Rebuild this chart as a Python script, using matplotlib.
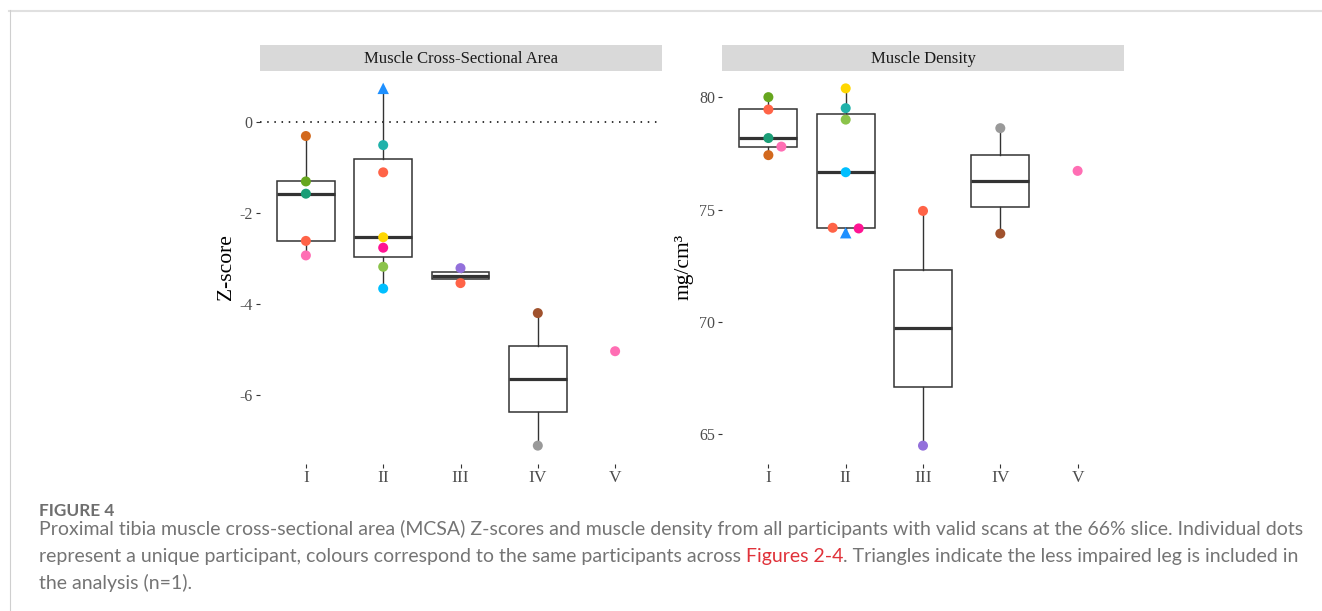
import matplotlib
matplotlib.use("Agg")
import matplotlib.pyplot as plt
import numpy as np
from matplotlib.lines import Line2D

plt.rcParams['axes.unicode_minus'] = False

# ---------------- data ----------------
groups = ["I", "II", "III", "IV", "V"]
participant_group = ["I", "I", "I", "I", "I",
                     "II", "II", "II", "II", "II", "II", "II",
                     "III", "III",
                     "IV", "IV",
                     "V"]
participant_color = ["#D2691E", "#66A61E", "#1B9E77", "#FF6347", "#FF6EB4",
                     "#1E90FF", "#20B2AA", "#FF6347", "#FFD700", "#FF1493", "#8BC34A", "#00BFFF",
                     "#9370DB", "#FF6347",
                     "#A0522D", "#999999",
                     "#FF6EB4"]
participant_marker = ["o", "o", "o", "o", "o",
                      "^", "o", "o", "o", "o", "o", "o",
                      "o", "o",
                      "o", "o",
                      "o"]
mcsa_z = [-0.30, -1.30, -1.57, -2.61, -2.93,
          0.75, -0.50, -1.10, -2.53, -2.76, -3.18, -3.66,
          -3.21, -3.54,
          -4.20, -7.12,
          -5.04]
density = [77.42, 80.00, 78.18, 79.45, 77.80,
           73.97, 79.51, 74.19, 80.39, 74.16, 79.00, 76.66,
           64.50, 74.94,
           73.93, 78.62,
           76.72]

panel_titles = ["Muscle Cross-Sectional Area", "Muscle Density"]
y_titles = ["Z-score", "mg/cm\u00b3"]
y_ticks = [[0, -2, -4, -6], [65, 70, 75, 80]]

caption_head = "FIGURE 4"
caption_line1 = ("Proximal tibia muscle cross-sectional area (MCSA) Z-scores and muscle density "
                 "from all participants with valid scans at the 66% slice. Individual dots")
caption_line2a = "represent a unique participant, colours correspond to the same participants across"
caption_line2b = "Figures 2-4"
caption_line2c = ". Triangles indicate the less impaired leg is included in"
caption_line3 = "the analysis (n=1)."

# ---------------- figure ----------------
W, H = 1322, 611
fig = plt.figure(figsize=(W / 100, H / 100), dpi=100)
fig.patch.set_facecolor("white")


def fx(px):
    return px / W


def fy(py):
    return 1 - py / H


SERIF = ["Liberation Serif", "DejaVu Serif"]
ax_top, ax_bot = 70.5, 463.5
panel_left = [259.5, 722.0]
panel_w = 402.0

grp_idx = np.array([groups.index(g) + 1 for g in participant_group], dtype=float)


def swarm_x(ax, xs, ys, gids, d_col=9.5, step=13.0):
    pts = ax.transData.transform(np.column_stack([xs, ys]))
    order = np.argsort(ys, kind="stable")
    placed = []
    newx = pts[:, 0].copy()
    for i in order:
        px, py = pts[i]
        for k in [0, 1, -1, 2, -2, 3, -3]:
            cx = px + k * step
            ok = True
            for (qx, qy, g) in placed:
                if g == gids[i] and np.hypot(cx - qx, py - qy) < d_col:
                    ok = False
                    break
            if ok:
                break
        newx[i] = cx
        placed.append((cx, py, gids[i]))
    back = ax.transData.inverted().transform(np.column_stack([newx, pts[:, 1]]))
    return back[:, 0]


for p, vals in enumerate([mcsa_z, density]):
    vals = np.array(vals, dtype=float)
    ax = fig.add_axes([fx(panel_left[p]), fy(ax_bot), panel_w / W, (ax_bot - ax_top) / H])
    lo, hi = vals.min(), vals.max()
    pad = 0.05 * (hi - lo)
    ax.set_ylim(lo - pad, hi + pad)
    ax.set_xlim(0.4, len(groups) + 0.6)

    # boxplots
    box_data, box_pos = [], []
    for gi, g in enumerate(groups):
        v = vals[np.array(participant_group) == g]
        if len(v) >= 2:
            box_data.append(v)
            box_pos.append(gi + 1)
    ax.boxplot(box_data, positions=box_pos, widths=0.75, showfliers=False, showcaps=False,
               patch_artist=True,
               boxprops=dict(facecolor="white", edgecolor="#333333", linewidth=1.1),
               medianprops=dict(color="#333333", linewidth=2.3),
               whiskerprops=dict(color="#333333", linewidth=1.0),
               zorder=2)

    if p == 0:
        ax.axhline(0, color="black", linewidth=1.1, linestyle=(0, (1, 3.7)), zorder=1)

    xs = swarm_x(ax, grp_idx, vals, participant_group)
    for x, y, c, m in zip(xs, vals, participant_color, participant_marker):
        ax.scatter([x], [y], s=68 if m == "^" else 52, color=c, marker=m,
                   edgecolors="none", zorder=4)

    ax.set_xticks(range(1, len(groups) + 1))
    ax.set_xticklabels(groups)
    ax.set_yticks(y_ticks[p])
    ax.set_yticklabels([str(t) for t in y_ticks[p]])
    for s in ax.spines.values():
        s.set_visible(False)
    ax.tick_params(length=3, width=0.8, color="#333333", labelcolor="#4d4d4d",
                   labelsize=11.5, pad=2)
    ax.tick_params(axis="x", labelsize=12.5)
    for lab in ax.get_xticklabels() + ax.get_yticklabels():
        lab.set_fontfamily(SERIF)

    # strip
    sax = fig.add_axes([fx(panel_left[p]), fy(ax_top), panel_w / W, (ax_top - 45) / H])
    sax.set_facecolor("#d9d9d9")
    sax.set_xticks([])
    sax.set_yticks([])
    for s in sax.spines.values():
        s.set_visible(False)
    sax.text(0.5, 0.45, panel_titles[p], ha="center", va="center", fontsize=12,
             color="#1a1a1a", family=SERIF, transform=sax.transAxes)

    # y title
    fig.text(fx([226, 684][p]), fy(267), y_titles[p], rotation=90, ha="center", va="center",
             fontsize=15.5, color="black", family=SERIF)

# border lines
fig.add_artist(Line2D([fx(9), 1], [fy(10.5), fy(10.5)], color="#e0e0e0", linewidth=1.5,
                      transform=fig.transFigure))
fig.add_artist(Line2D([fx(9.5), fx(9.5)], [fy(10), 0], color="#cfcfcf", linewidth=0.8,
                      transform=fig.transFigure))

# caption
CAP = ["Lato", "DejaVu Sans"]
cap_color = "#747474"
r = fig.canvas.get_renderer()
x0 = 39
t1 = fig.text(fx(x0), fy(535.5), caption_line1, fontsize=12, color=cap_color, family=CAP,
              va="baseline", ha="left")
w1 = t1.get_window_extent(r).width
fs = 12 * 1263 / w1
t1.set_fontsize(fs)
fig.text(fx(x0), fy(515.5), caption_head, fontsize=fs * 0.88, color="#6f6f6f", family=CAP,
         weight="bold", va="baseline", ha="left")

tmp_a = fig.text(0, 0, "x x", fontsize=fs, family=CAP)
tmp_b = fig.text(0, 0, "xx", fontsize=fs, family=CAP)
space_w = tmp_a.get_window_extent(r).width - tmp_b.get_window_extent(r).width
tmp_a.remove()
tmp_b.remove()

ta = fig.text(fx(x0), fy(562), caption_line2a, fontsize=fs, color=cap_color, family=CAP,
              va="baseline", ha="left")
xa = x0 + ta.get_window_extent(r).width + space_w
tb = fig.text(fx(xa), fy(562), caption_line2b, fontsize=fs, color="#e0323a", family=CAP,
              va="baseline", ha="left")
xb = xa + tb.get_window_extent(r).width
fig.text(fx(xb), fy(562), caption_line2c, fontsize=fs, color=cap_color, family=CAP,
         va="baseline", ha="left")
fig.text(fx(x0), fy(588.5), caption_line3, fontsize=fs, color=cap_color, family=CAP,
         va="baseline", ha="left")

fig.savefig("out.png", dpi=100, facecolor="white")
